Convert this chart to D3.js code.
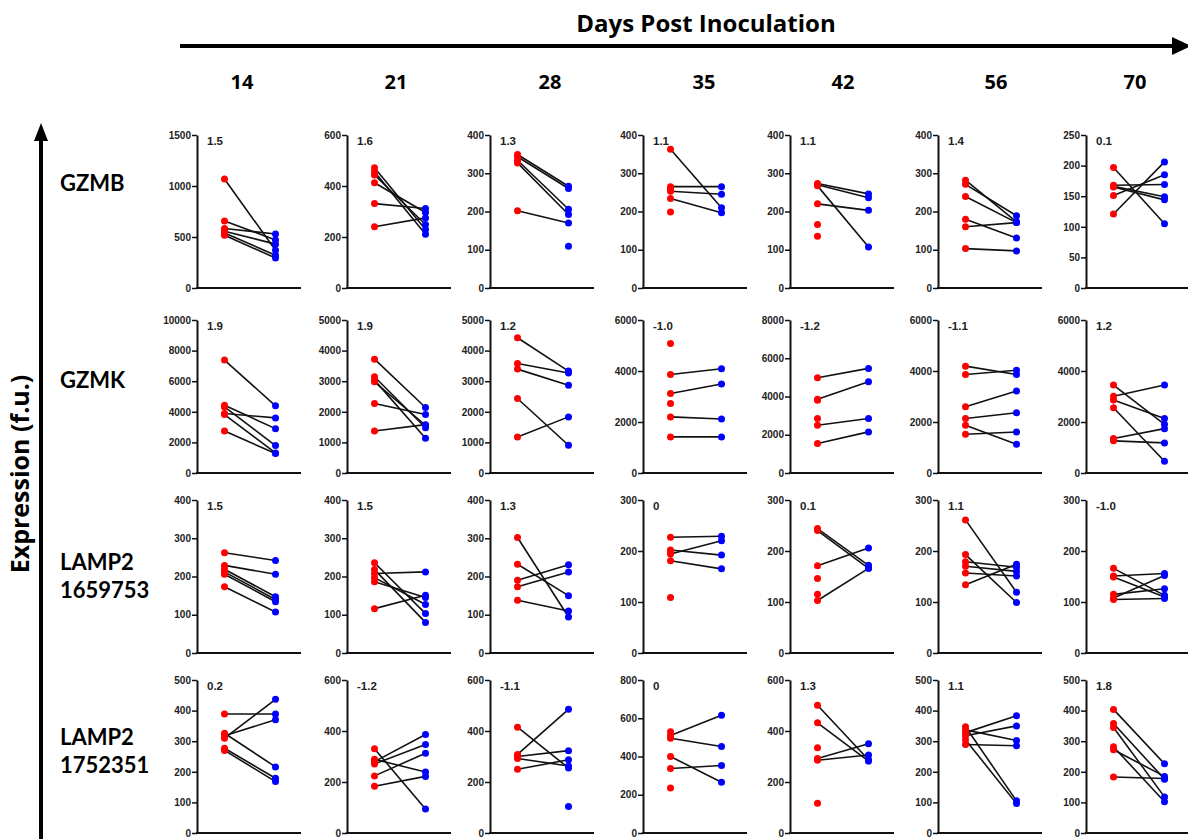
<!DOCTYPE html>
<html>
<head>
<meta charset="utf-8">
<script src="https://cdn.jsdelivr.net/npm/d3@7"></script>
<style>
  body { margin: 0; background: #fff; }
  svg { display: block; }
</style>
</head>
<body>
<svg id="chart" width="1188" height="839"></svg>
<script>
const days = ['14', '21', '28', '35', '42', '56', '70']
const genes = [['GZMB'], ['GZMK'], ['LAMP2', '1659753'], ['LAMP2', '1752351']]

// y axis max and tick step per row / day
const yMaxes = [
    [1500, 600, 400, 400, 400, 400, 250],
    [10000, 5000, 5000, 6000, 8000, 6000, 6000],
    [400, 400, 400, 300, 300, 300, 300],
    [500, 600, 600, 800, 600, 500, 500],
]
const yTickSteps = [
    [500, 200, 100, 100, 100, 100, 50],
    [2000, 1000, 1000, 2000, 2000, 2000, 2000],
    [100, 100, 100, 100, 100, 100, 100],
    [100, 200, 200, 200, 200, 100, 100],
]
const foldChanges = [
    ['1.5', '1.6', '1.3', '1.1', '1.1', '1.4', '0.1'],
    ['1.9', '1.9', '1.2', '-1.0', '-1.2', '-1.1', '1.2'],
    ['1.5', '1.5', '1.3', '0', '0.1', '1.1', '-1.0'],
    ['0.2', '-1.2', '-1.1', '0', '1.3', '1.1', '1.8'],
]

// [red (before), blue (after)] pairs, null = unpaired
const gzmb = [
    [[1068, 370], [658, 470], [583, 530], [557, 430], [540, 321], [517, 295]],
    [[472, 229], [456, 211], [443, 249], [413, 296], [331, 312], [240, 275]],
    [[349, 266], [343, 260], [334, 206], [327, 192], [202, 170], [null, 109]],
    [[363, 210], [265, 265], [253, 245], [234, 197], [259, null], [199, null]],
    [[273, 246], [270, 236], [267, 107], [220, 203], [166, null], [135, null]],
    [[282, 173], [271, 189], [239, 171], [180, 131], [160, 171], [103, 97]],
    [[197, 105], [168, 169], [166, 149], [165, 144], [151, 185], [121, 206]],
]
const gzmk = [
    [[7380, 4390], [4430, 2900], [4320, 1790], [3890, 3600], [3820, 1310], [2750, 1270]],
    [[3720, 2140], [3144, 1480], [3035, 1135], [2980, 1560], [2270, 1910], [1375, 1580]],
    [[4420, 3330], [3580, 3270], [3395, 2870], [2435, 906], [1180, 1834]],
    [[3860, 4090], [3120, 3490], [2200, 2120], [1415, 1415], [5080, null], [2725, null]],
    [[4980, 5470], [3860, 4770], [2500, 2850], [1540, 2150], [3810, null], [2850, null]],
    [[4190, 3860], [3860, 4030], [2600, 3220], [2140, 2360], [1875, 1130], [1520, 1610]],
    [[3450, 1910], [3010, 3450], [2860, 2140], [2560, 460], [1350, 1740], [1260, 1180]],
]
const lamp2a = [
    [[262, 242], [229, 206], [219, 147], [212, 140], [206, 134], [173, 107]],
    [[236, 103], [218, 80], [208, 212], [197, 127], [186, 145], [116, 151]],
    [[302, 94], [232, 150], [190, 231], [173, 212], [138, 110]],
    [[227, 229], [202, 192], [194, 220], [181, 165], [197, null], [109, null]],
    [[244, 172], [240, 166], [171, 206], [103, 166], [146, null], [115, null]],
    [[261, 119], [193, 99], [179, 168], [170, 160], [157, 151], [134, 174]],
    [[166, 113], [151, 156], [149, 110], [115, 126], [108, 152], [105, 107]],
]
const lamp2b = [
    [[389, 389], [310, 437], [318, 370], [326, 216], [277, 179], [270, 168]],
    [[330, 94], [289, 239], [280, 386], [271, 347], [224, 313], [183, 222]],
    [[415, 255], [308, 485], [300, 323], [292, 263], [250, 287], [null, 104]],
    [[510, 616], [495, 452], [400, 265], [337, 353], [530, null], [235, null]],
    [[501, 287], [432, 282], [292, 350], [285, 306], [334, null], [117, null]],
    [[328, 383], [318, 350], [337, 302], [289, 285], [347, 105], [305, 96]],
    [[404, 226], [358, 176], [345, 118], [282, 102], [272, 185], [183, 178]],
]
const rows = [gzmb, gzmk, lamp2a, lamp2b]

// layout
const colX = [197, 347, 490, 643, 790, 938, 1086]
const dayX = [242, 396, 550, 704, 843, 996, 1135]
const rowTop = [135, 320, 500, 680]
const labelY = [183, 380, 576, 751]
const axisH = 153
const axisW = 104

const svg = d3.select('#chart')
const bigFont = '"Open Sans", Lato, sans-serif'
const smallFont = '"Liberation Sans", Arial, sans-serif'

// header
svg.append('text')
    .attr('x', 706).attr('y', 32)
    .attr('text-anchor', 'middle')
    .style('font-family', bigFont).style('font-weight', 'bold').style('font-size', '24px')
    .text('Days Post Inoculation')

svg.append('line')
    .attr('x1', 180).attr('x2', 1176).attr('y1', 46).attr('y2', 46)
    .attr('stroke', '#000').attr('stroke-width', 4)
svg.append('path')
    .attr('d', 'M1172,37 L1191,46 L1172,55 Z')
    .attr('fill', '#000')

// left axis arrow
svg.append('line')
    .attr('x1', 41).attr('x2', 41).attr('y1', 839).attr('y2', 136)
    .attr('stroke', '#000').attr('stroke-width', 4)
svg.append('path')
    .attr('d', 'M34,141 L41,123 L48,141 Z')
    .attr('fill', '#000')

svg.append('text')
    .attr('transform', 'translate(29,474) rotate(-90)')
    .attr('text-anchor', 'middle')
    .style('font-family', bigFont).style('font-weight', 'bold').style('font-size', '25px')
    .text('Expression (f.u.)')

// row labels
genes.forEach(function (lines, r) {
    let t = svg.append('text')
        .attr('x', 60)
        .attr('y', labelY[r] - (lines.length - 1) * 14 + 8)
        .style('font-family', 'Lato, sans-serif').style('font-weight', 'bold').style('font-size', '22px')
    lines.forEach(function (l, i) {
        t.append('tspan').attr('x', 60).attr('dy', i === 0 ? 0 : 28).text(l)
    })
})

// day labels
days.forEach(function (d, c) {
    svg.append('text')
        .attr('x', dayX[c]).attr('y', 89)
        .attr('text-anchor', 'middle')
        .style('font-family', bigFont).style('font-weight', 'bold').style('font-size', '20px')
        .text(d)
})

const x = d3.scaleLinear().domain([-0.5, 1.5]).range([2, axisW])

rows.forEach(function (row, r) {
    row.forEach(function (pairs, c) {
        let yMax = yMaxes[r][c]
        let y = d3.scaleLinear().domain([0, yMax]).range([axisH, 0])
        let g = svg.append('g').attr('transform', 'translate(' + colX[c] + ',' + rowTop[r] + ')')

        let ax = g.append('g')
            .call(d3.axisLeft(y)
                .tickValues(d3.range(0, yMax + 1, yTickSteps[r][c]))
                .tickFormat(d3.format('d'))
                .tickSize(5).tickSizeOuter(0).tickPadding(1))
        ax.select('.domain').attr('stroke', '#111').attr('stroke-width', 2)
        ax.selectAll('.tick line').attr('stroke', '#111').attr('stroke-width', 1.5)
        ax.selectAll('.tick text')
            .style('font-family', smallFont).style('font-size', '10px').style('font-weight', 'bold')
            .attr('fill', '#222')

        g.append('line')
            .attr('x1', -1).attr('x2', axisW).attr('y1', axisH).attr('y2', axisH)
            .attr('stroke', '#111').attr('stroke-width', 2)

        g.append('text')
            .attr('x', 10).attr('y', 10)
            .style('font-family', smallFont).style('font-weight', 'bold').style('font-size', '11.5px')
            .attr('fill', '#222')
            .text(foldChanges[r][c])

        g.selectAll('line.pair')
            .data(pairs.filter(function (p) { return p[0] !== null && p[1] !== null }))
            .join('line')
            .attr('class', 'pair')
            .attr('x1', x(0)).attr('x2', x(1))
            .attr('y1', function (p) { return y(p[0]) })
            .attr('y2', function (p) { return y(p[1]) })
            .attr('stroke', '#111').attr('stroke-width', 1.6)

        g.selectAll('circle.before')
            .data(pairs.filter(function (p) { return p[0] !== null }))
            .join('circle')
            .attr('class', 'before')
            .attr('cx', x(0)).attr('cy', function (p) { return y(p[0]) })
            .attr('r', 3.5).attr('fill', '#ff0000')

        g.selectAll('circle.after')
            .data(pairs.filter(function (p) { return p[1] !== null }))
            .join('circle')
            .attr('class', 'after')
            .attr('cx', x(1)).attr('cy', function (p) { return y(p[1]) })
            .attr('r', 3.5).attr('fill', '#0000ff')
    })
})
</script>
</body>
</html>
